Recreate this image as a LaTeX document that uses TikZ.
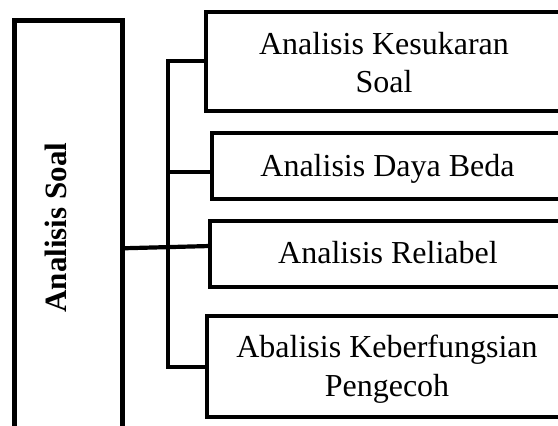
\documentclass[tikz,border=0pt]{standalone}
\usepackage{fontspec}
\setmainfont{Liberation Serif}
\begin{document}
\begin{tikzpicture}[x=1pt,y=-1pt,
  box/.style={draw=black,line width=4.8pt,inner sep=0pt,outer sep=0pt,fill=none},
  lbl/.style={font=\fontsize{32}{38.5}\selectfont,align=center,anchor=base,inner sep=0pt},
  bus/.style={draw=black,line width=4.2pt,line join=miter}]
\useasboundingbox (0,0) rectangle (558,426);
% boxes
\node[box,minimum width=108pt,minimum height=424.5pt] (L) at (68.5,232.75) {};
\node[box,minimum width=360pt,minimum height=99pt] (b1) at (386,61.5) {};
\node[box,minimum width=354pt,minimum height=66pt] (b2) at (389,166) {};
\node[box,minimum width=356pt,minimum height=66pt] (b3) at (388,254) {};
\node[box,minimum width=359pt,minimum height=101pt] (b4) at (386.5,366.5) {};
% labels
\node[font=\fontsize{31}{37}\selectfont\bfseries,rotate=90,anchor=base,inner sep=0pt] (tL) at (66,227.7) {Analisis Soal};
\node[lbl] (t1) at (384,92.5) {Analisis Kesukaran\\Soal};
\node[lbl] (t2) at (387.5,176) {Analisis Daya Beda};
\node[lbl] (t3) at (388,263.3) {Analisis Reliabel};
\node[lbl] (t4) at (387,396) {Abalisis Keberfungsian\\Pengecoh};
% bus coordinates
\coordinate (bt) at (168,61);
\coordinate (bm) at (168,172);
\coordinate (bb) at (168,367);
\coordinate (c3a) at (122.5,248.3);
\coordinate (c3b) at (210,246);
% connectors
\draw[bus] (b1.west |- bt) -- (bt) -- (bb) -- (b4.west |- bb);
\draw[bus] (bm) -- (b2.west |- bm);
\draw[bus] (c3a) -- (c3b);
\end{tikzpicture}
\end{document}
